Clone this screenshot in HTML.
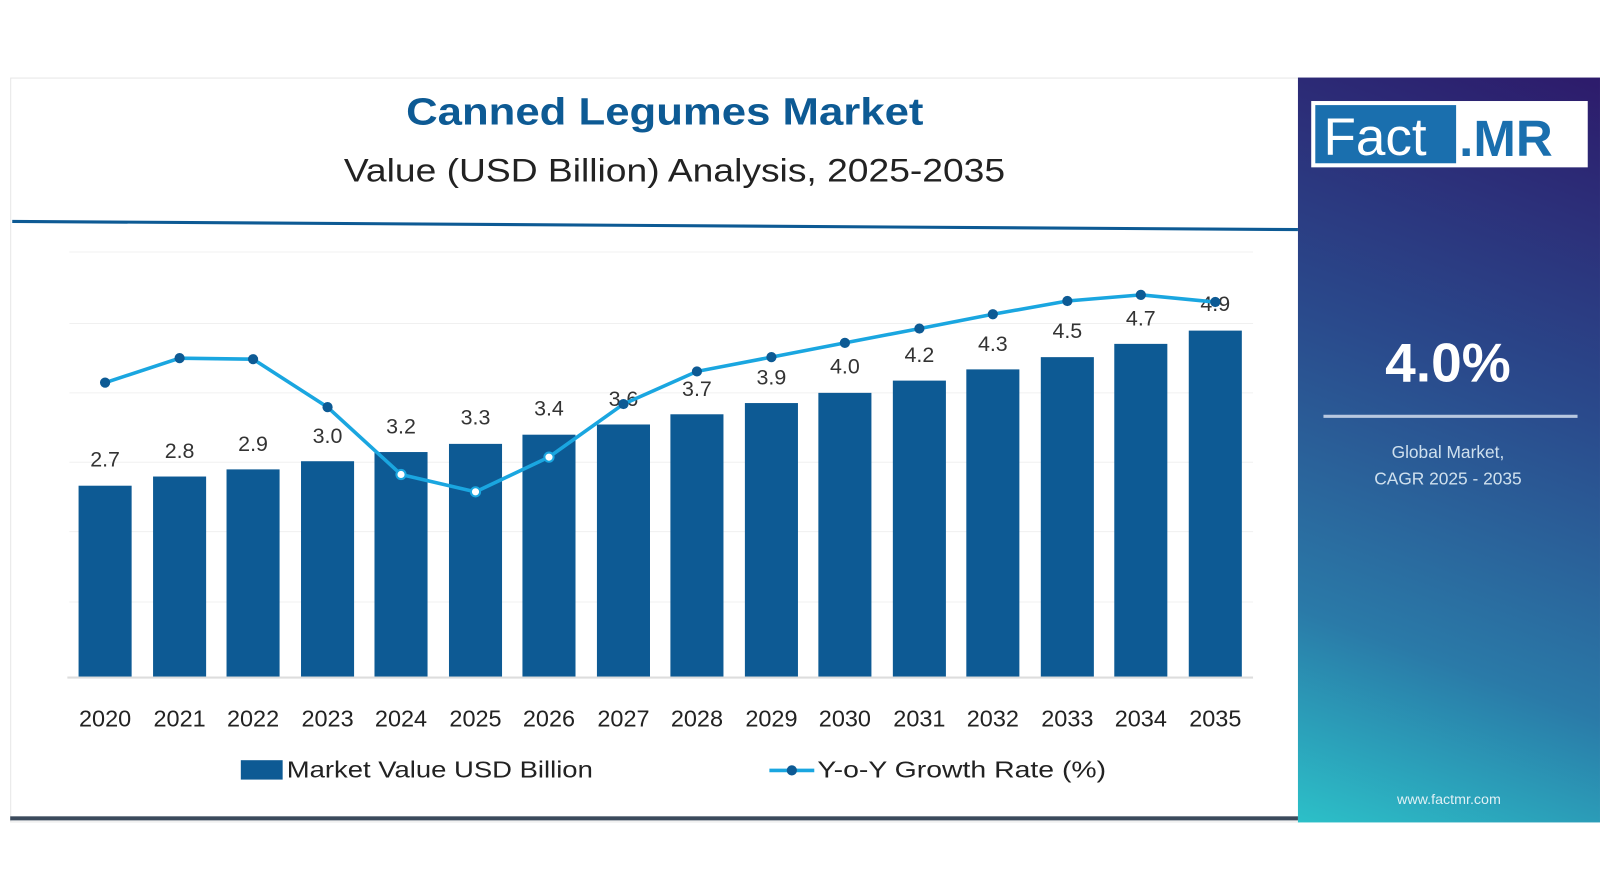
<!DOCTYPE html>
<html><head><style>
body{margin:0;width:1600px;height:896px;background:#fff;position:relative;overflow:hidden;font-family:"Liberation Sans",sans-serif}
#w{position:absolute;left:0;top:0;width:1568px;height:878px;transform:scale(1.0204);transform-origin:0 0}
.card{position:absolute;left:10px;top:76px;width:1262px;height:728px;border:1px solid #e6e6e6;background:#fff}
.side{position:absolute;left:1272px;top:76px;width:296px;height:730px;background:linear-gradient(200deg,#2d1b6b 0%,#2a4a8c 40%,#2a7aa8 75%,#2cc0c8 100%)}
</style></head><body>
<div id="w">
<div class="card"></div>
<div style="position:absolute;left:10px;top:800px;width:1262px;height:4px;background:#3b4a5c"></div>
<div class="side"></div>
<svg width="1568" height="878" style="position:absolute;left:0;top:0">
<text x="398" y="122" textLength="507" lengthAdjust="spacingAndGlyphs" font-size="37" font-weight="bold" fill="#0d5a94">Canned Legumes Market</text>
<text x="337" y="178" textLength="648" lengthAdjust="spacingAndGlyphs" font-size="32" fill="#222">Value (USD Billion) Analysis, 2025-2035</text>
<line x1="12" y1="217" x2="1272" y2="225" stroke="#0d5a94" stroke-width="3"/>
<g stroke="#f0f0f0" stroke-width="1">
<line x1="68" y1="247" x2="1228" y2="247"/><line x1="68" y1="317" x2="1228" y2="317"/><line x1="68" y1="385" x2="1228" y2="385"/><line x1="68" y1="453" x2="1228" y2="453"/><line x1="68" y1="521" x2="1228" y2="521"/><line x1="68" y1="590" x2="1228" y2="590"/>
</g>
<line x1="66" y1="664" x2="1228" y2="664" stroke="#ddd" stroke-width="2"/>
<g fill="#0d5a94">
<rect x="77" y="476" width="52" height="187"/><rect x="150" y="467" width="52" height="196"/><rect x="222" y="460" width="52" height="203"/><rect x="295" y="452" width="52" height="211"/><rect x="367" y="443" width="52" height="220"/><rect x="440" y="435" width="52" height="228"/><rect x="512" y="426" width="52" height="237"/><rect x="585" y="416" width="52" height="247"/><rect x="657" y="406" width="52" height="257"/><rect x="730" y="395" width="52" height="268"/><rect x="802" y="385" width="52" height="278"/><rect x="875" y="373" width="52" height="290"/><rect x="947" y="362" width="52" height="301"/><rect x="1020" y="350" width="52" height="313"/><rect x="1092" y="337" width="52" height="326"/><rect x="1165" y="324" width="52" height="339"/>
</g>
<g font-size="21" fill="#333" text-anchor="middle">
<text x="103" y="457">2.7</text><text x="176" y="449">2.8</text><text x="248" y="442">2.9</text><text x="321" y="434">3.0</text><text x="393" y="425">3.2</text><text x="466" y="416">3.3</text><text x="538" y="407">3.4</text><text x="611" y="398">3.6</text><text x="683" y="388">3.7</text><text x="756" y="377">3.9</text><text x="828" y="366">4.0</text><text x="901" y="355">4.2</text><text x="973" y="344">4.3</text><text x="1046" y="331">4.5</text><text x="1118" y="319">4.7</text><text x="1191" y="305">4.9</text>
</g>
<polyline fill="none" stroke="#1aa6e0" stroke-width="3.5" points="103,375 176,351 248,352 321,399 393,465 466,482 538,448 611,396 683,364 756,350 828,336 901,322 973,308 1046,295 1118,289 1191,296"/>
<g fill="#0d5a94">
<circle cx="103" cy="375" r="5"/><circle cx="176" cy="351" r="5"/><circle cx="248" cy="352" r="5"/><circle cx="321" cy="399" r="5"/><circle cx="611" cy="396" r="5"/><circle cx="683" cy="364" r="5"/><circle cx="756" cy="350" r="5"/><circle cx="828" cy="336" r="5"/><circle cx="901" cy="322" r="5"/><circle cx="973" cy="308" r="5"/><circle cx="1046" cy="295" r="5"/><circle cx="1118" cy="289" r="5"/><circle cx="1191" cy="296" r="5"/>
</g>
<g fill="#fff" stroke="#1aa6e0" stroke-width="2"><circle cx="393" cy="465" r="4.5"/><circle cx="466" cy="482" r="4.5"/><circle cx="538" cy="448" r="4.5"/></g>
<g font-size="23" fill="#222" text-anchor="middle">
<text x="103" y="712">2020</text><text x="176" y="712">2021</text><text x="248" y="712">2022</text><text x="321" y="712">2023</text><text x="393" y="712">2024</text><text x="466" y="712">2025</text><text x="538" y="712">2026</text><text x="611" y="712">2027</text><text x="683" y="712">2028</text><text x="756" y="712">2029</text><text x="828" y="712">2030</text><text x="901" y="712">2031</text><text x="973" y="712">2032</text><text x="1046" y="712">2033</text><text x="1118" y="712">2034</text><text x="1191" y="712">2035</text>
</g>
<rect x="236" y="745" width="41" height="19" fill="#0d5a94"/>
<text x="281" y="762" textLength="300" lengthAdjust="spacingAndGlyphs" font-size="23" fill="#222">Market Value USD Billion</text>
<line x1="754" y1="755" x2="798" y2="755" stroke="#1aa6e0" stroke-width="3.5"/><circle cx="776" cy="755" r="5" fill="#0d5a94"/>
<text x="801" y="762" textLength="283" lengthAdjust="spacingAndGlyphs" font-size="23" fill="#222">Y-o-Y Growth Rate (%)</text>
<rect x="1285" y="99" width="271" height="65" fill="#fff"/>
<rect x="1289" y="103" width="138" height="57" fill="#1a6fae"/>
<text x="1297" y="152" font-size="52" fill="#fff">Fact</text>
<text x="1430" y="153" font-size="50" font-weight="bold" fill="#1a6fae">.MR</text>
<text x="1419" y="374" text-anchor="middle" font-size="54" font-weight="bold" fill="#fff">4.0%</text>
<line x1="1297" y1="408" x2="1546" y2="408" stroke="#b8c8e0" stroke-width="3"/>
<text x="1419" y="449" text-anchor="middle" font-size="17" fill="#cfe0ee">Global Market,</text>
<text x="1419" y="475" text-anchor="middle" font-size="17" fill="#cfe0ee">CAGR 2025 - 2035</text>
<text x="1420" y="788" text-anchor="middle" font-size="14" fill="#e0f0f5">www.factmr.com</text>
</svg>
</div>
</body></html>
